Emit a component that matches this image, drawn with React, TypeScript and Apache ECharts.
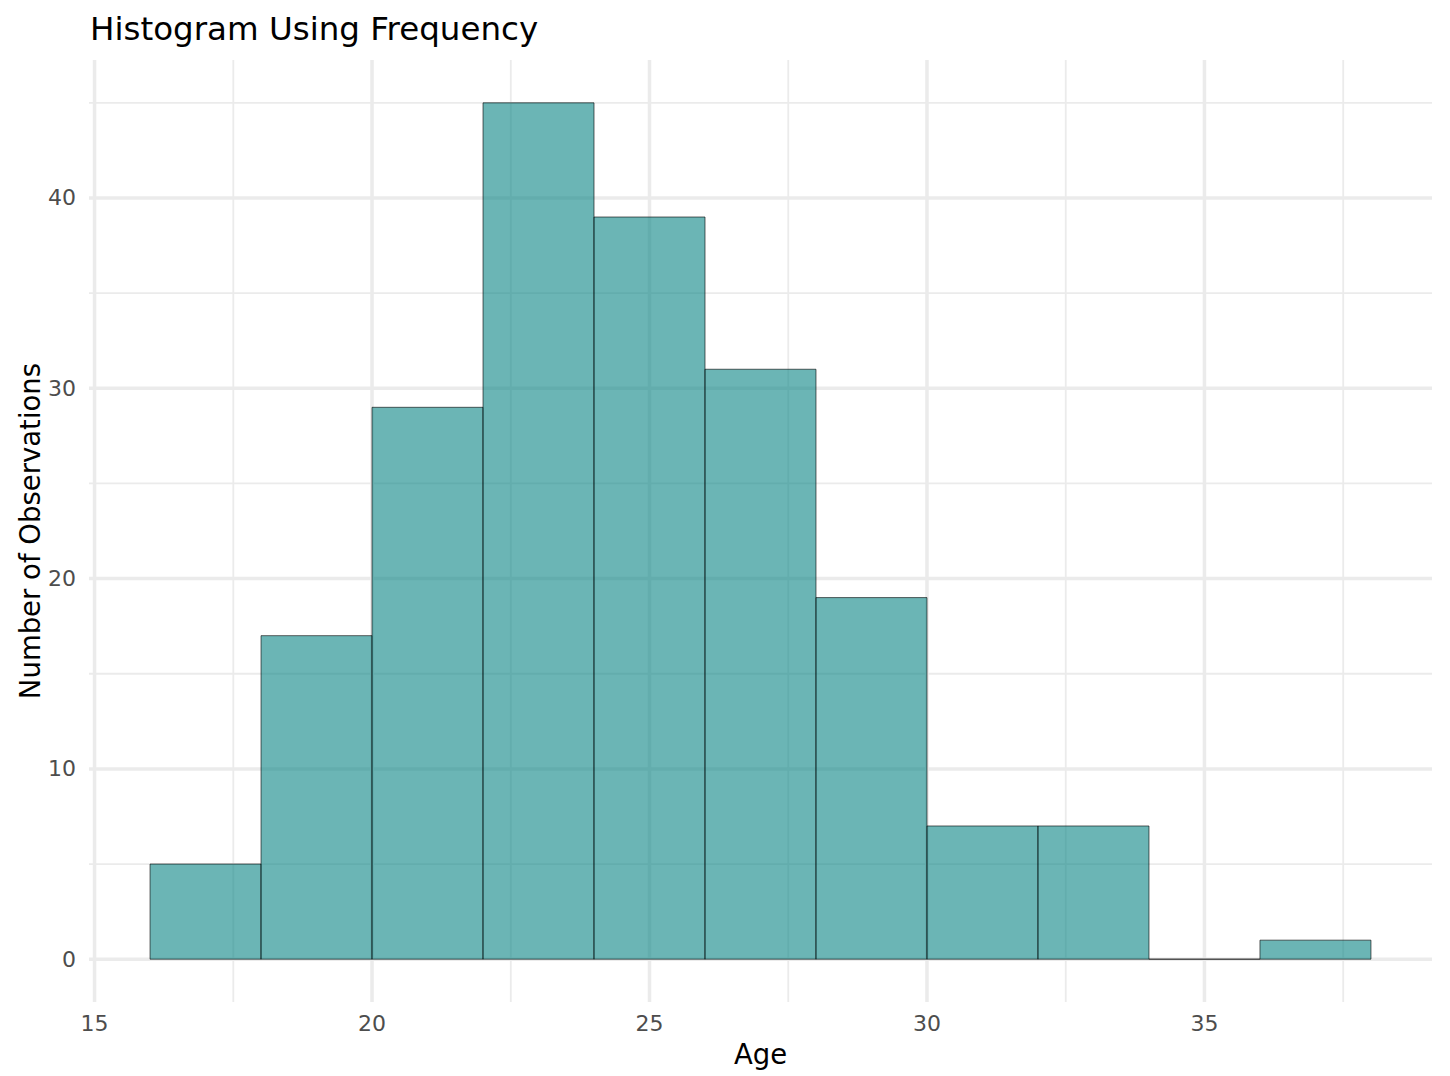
import React, { useEffect, useRef } from "react";
import * as echarts from "echarts";

const binStarts = [16, 18, 20, 22, 24, 26, 28, 30, 32, 34, 36];
const binEnds = [18, 20, 22, 24, 26, 28, 30, 32, 34, 36, 38];
const counts = [5, 17, 29, 45, 39, 31, 19, 7, 7, 0, 1];

const xTickLabels = [15, 20, 25, 30, 35];
const yTickLabels = [0, 10, 20, 30, 40];
const xMinorLines = [17.5, 22.5, 27.5, 32.5, 37.5];
const yMinorLines = [5, 15, 25, 35, 45];

const X_MIN = 14.9;
const X_MAX = 39.1;
const Y_MIN = -2.25;
const Y_MAX = 47.25;

type GridLine = { v: number; major: boolean; dir: "x" | "y" };

export default function App() {
  const ref = useRef<HTMLDivElement>(null);

  useEffect(() => {
    if (!ref.current) return;
    const chart = echarts.init(ref.current, undefined, { renderer: "svg" });

    const gridLines: GridLine[] = [
      ...xMinorLines.map((v) => ({ v, major: false, dir: "x" as const })),
      ...yMinorLines.map((v) => ({ v, major: false, dir: "y" as const })),
      ...xTickLabels.map((v) => ({ v, major: true, dir: "x" as const })),
      ...yTickLabels.map((v) => ({ v, major: true, dir: "y" as const })),
    ];

    const font = "'DejaVu Sans', sans-serif";

    chart.setOption({
      animation: false,
      backgroundColor: "#ffffff",
      title: {
        text: "Histogram Using Frequency",
        left: 85,
        top: 7,
        textStyle: {
          fontFamily: font,
          fontSize: 32.5,
          fontWeight: "normal",
          color: "#000000",
        },
      },
      graphic: [
        {
          type: "text",
          x: 29.5,
          y: 531,
          rotation: Math.PI / 2,
          silent: true,
          style: {
            text: "Number of Observations",
            fontFamily: font,
            fontSize: 27.5,
            fill: "#000000",
            align: "center",
            verticalAlign: "middle",
          },
        },
      ],
      grid: { left: 89, right: 18, top: 60, bottom: 74, containLabel: false },
      xAxis: {
        type: "value",
        min: X_MIN,
        max: X_MAX,
        name: "Age",
        nameLocation: "middle",
        nameGap: 38,
        nameTextStyle: { fontFamily: font, fontSize: 27.5, color: "#000000" },
        axisLine: { show: false },
        axisTick: { show: false, customValues: xTickLabels },
        splitLine: { show: false },
        axisLabel: {
          customValues: xTickLabels,
          fontFamily: font,
          fontSize: 22,
          color: "#4D4D4D",
          margin: 10,
        },
      },
      yAxis: {
        type: "value",
        min: Y_MIN,
        max: Y_MAX,
        axisLine: { show: false },
        axisTick: { show: false, customValues: yTickLabels },
        splitLine: { show: false },
        axisLabel: {
          customValues: yTickLabels,
          fontFamily: font,
          fontSize: 22,
          color: "#4D4D4D",
          margin: 13,
        },
      },
      series: [
        {
          type: "custom",
          silent: true,
          z: 1,
          data: gridLines.map((g) => [g.v]),
          renderItem: (params: any, api: any) => {
            const g = gridLines[params.dataIndex];
            let p1, p2;
            if (g.dir === "x") {
              p1 = api.coord([g.v, Y_MIN]);
              p2 = api.coord([g.v, Y_MAX]);
            } else {
              p1 = api.coord([X_MIN, g.v]);
              p2 = api.coord([X_MAX, g.v]);
            }
            return {
              type: "line",
              shape: { x1: p1[0], y1: p1[1], x2: p2[0], y2: p2[1] },
              style: {
                stroke: "#EBEBEB",
                lineWidth: g.major ? 3.5 : 1.8,
              },
            };
          },
        },
        {
          type: "custom",
          z: 2,
          data: counts.map((c, i) => [binStarts[i], binEnds[i], c]),
          encode: { x: [0, 1], y: 2 },
          renderItem: (params: any, api: any) => {
            const x0 = api.value(0);
            const x1 = api.value(1);
            const c = api.value(2);
            const a = api.coord([x0, c]);
            const b = api.coord([x1, 0]);
            return {
              type: "rect",
              shape: { x: a[0], y: a[1], width: b[0] - a[0], height: b[1] - a[1] },
              style: {
                fill: "rgba(0,128,128,0.58)",
                stroke: "rgba(0,0,0,0.6)",
                lineWidth: 1,
              },
            };
          },
        },
      ],
    });

    return () => chart.dispose();
  }, []);

  return (
    <div
      ref={ref}
      style={{ position: "fixed", left: 0, top: 0, width: 1450, height: 1076, background: "#fff" }}
    />
  );
}
